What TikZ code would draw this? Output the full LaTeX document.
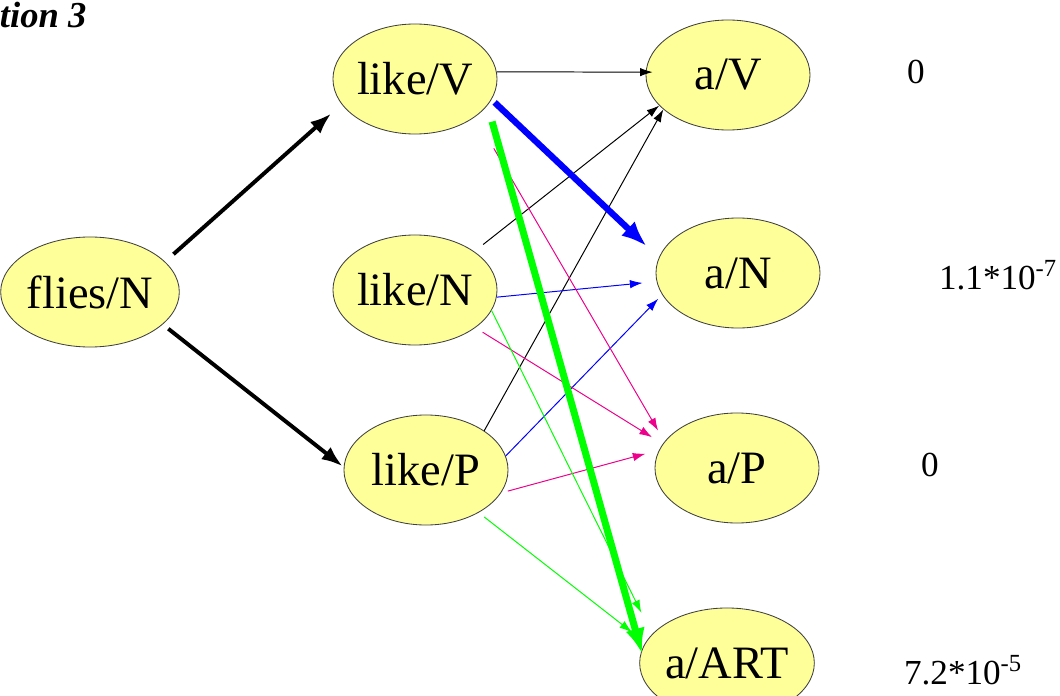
\documentclass[tikz,border=0pt]{standalone}
\usepackage{fontspec}
\setmainfont{Liberation Serif}
\usetikzlibrary{arrows.meta,shapes.geometric}
\definecolor{tagyellow}{RGB}{255,255,153}

\begin{document}
\begin{tikzpicture}[
        x=0.025cm, y=-0.025cm,
        tagnode/.style={ellipse, draw=black!75, line width=0.6pt, fill=tagyellow, minimum width=4.1cm, minimum height=2.75cm, inner sep=0pt, font=\fontsize{33}{38}\selectfont},
        prob/.style={font=\fontsize{25}{30}\selectfont},
        bigarrow/.style={line width=2.8pt, -{Latex[length=15pt,width=11pt]}},
        fatarrow/.style={line width=4.5pt, -{Latex[length=18pt,width=14pt]}},
        thinarrow/.style={line width=0.7pt, -{Latex[length=9pt,width=6pt]}},
    ]

    \useasboundingbox (0,0) rectangle (1060,696);

    % Title (cut off at the left edge)
    \node[anchor=base west, font=\fontsize{26}{30}\selectfont\bfseries\itshape] (title) at (-5,28) {tion 3};

    % Tag nodes
    \node[tagnode] (flies) at (90,292) {flies/N};
    \node[tagnode] (likeV) at (415,79)  {like/V};
    \node[tagnode] (likeN) at (415,290) {like/N};
    \node[tagnode] (likeP) at (426,470) {like/P};
    \node[tagnode] (aV)    at (728,75)  {a/V};
    \node[tagnode] (aN)    at (738,273) {a/N};
    \node[tagnode] (aP)    at (737,468) {a/P};
    \node[tagnode] (aART)  at (727,663) {a/ART};

    % Probabilities
    \node[prob] (pV)   at (916,72)  {0};
    \node[prob] (pN)   at (998,275) {1.1*10\textsuperscript{-7}};
    \node[prob] (pP)   at (930,465) {0};
    \node[prob] (pART) at (963,670) {7.2*10\textsuperscript{-5}};

    % flies -> like
    \draw[bigarrow, shorten <=8pt, shorten >=10pt] (flies.22) -- (likeV.199);
    \draw[bigarrow, shorten <=5pt, shorten >=1pt] (flies.-24) -- (likeP.178);

    % like -> a/V
    \draw[thinarrow, shorten >=-5pt] (likeV.5) -- (aV.178);
    \draw[thinarrow, shorten <=8pt] (likeN.33) -- (aV.204);
    \draw[thinarrow] (likeP.34) -- (aV.208);

    % like -> a/N
    \draw[thinarrow, blue, shorten >=10pt] (likeN.-5) -- (aN.186);
    \draw[thinarrow, blue, shorten >=4pt] (likeP.10) -- (aN.196);

    % like -> a/P
    \draw[thinarrow, magenta, shorten <=26pt, shorten >=9pt] (likeV.-32) -- (aP.160);
    \draw[thinarrow, magenta, shorten <=6pt, shorten >=9pt] (likeN.-32) -- (aP.162);
    \draw[thinarrow, magenta, shorten <=5pt, shorten >=10pt] (likeP.-17) -- (aP.167);

    % like -> a/ART
    \draw[thinarrow, green, shorten >=17pt] (likeN.-15) -- (aART.159);
    \draw[thinarrow, green, shorten <=5pt, shorten >=12pt] (likeP.-39) -- (aART.166);

    % best paths
    \draw[fatarrow, blue, shorten <=3pt, shorten >=12pt] (likeV.-15) -- (aN.169);
    \draw[fatarrow, green, line width=5pt, shorten <=12pt, shorten >=-2pt] (likeV.-20) -- (aART.172);

\end{tikzpicture}
\end{document}
